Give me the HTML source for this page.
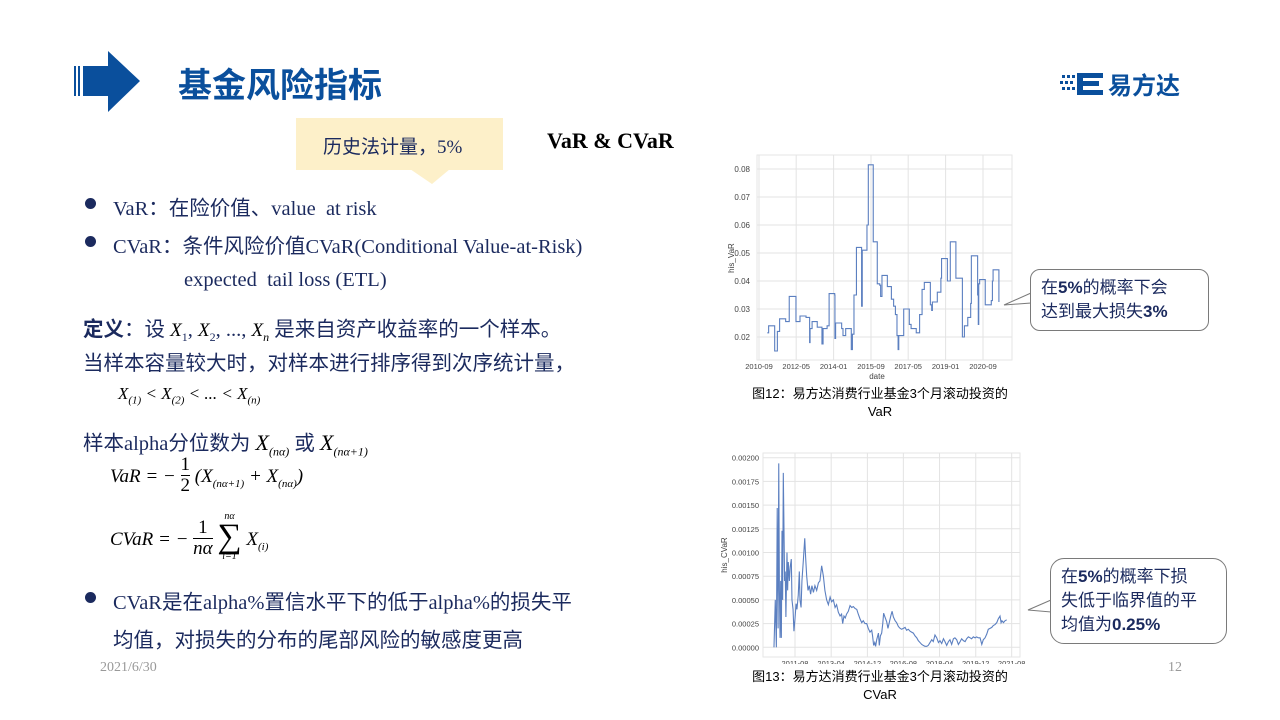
<!DOCTYPE html>
<html><head><meta charset="utf-8">
<style>
body{margin:0;width:1280px;height:720px;background:#fff;position:relative;overflow:hidden;font-family:"Liberation Serif","Noto Sans CJK SC",serif;color:#1b2a5e}
.abs{position:absolute;white-space:nowrap}
.t{font-size:20.5px;color:#1b2a5e}
.m{font-family:"Liberation Serif",serif;font-style:italic;font-size:19px;color:#000}
.dot{position:absolute;width:11px;height:11px;border-radius:50%;background:#1b2a5e}
.call{position:absolute;border:1px solid #7a7a7a;border-radius:10px;background:#fff;font-size:17px;color:#1b2a5e;padding:6px 10px;line-height:24px;font-family:"Liberation Sans","Noto Sans CJK SC",sans-serif}
.cap{font-size:13px;color:#000;text-align:center;font-family:"Liberation Sans","Noto Sans CJK SC",sans-serif;line-height:18px}
</style></head><body>
<svg class="abs" style="left:70px;top:50px" width="72" height="64"><rect x="4" y="16" width="2" height="30" fill="#0a4f9c"/><rect x="8" y="16" width="2" height="30" fill="#0a4f9c"/><polygon points="13,16 38,16 38,1 70,31 38,62 38,46 13,46" fill="#0a4f9c"/></svg>
<div class="abs" style="left:178px;top:58px;font-size:34px;font-weight:bold;color:#0a4f9c;font-family:'Liberation Sans','Noto Sans CJK SC',sans-serif">基金风险指标</div>
<div class="abs" style="left:1060px;top:66px;">
<svg width="48" height="28" style="vertical-align:middle"><g fill="#0a4f9c"><rect x="2" y="5" width="3" height="3"/><rect x="7" y="5" width="3" height="3"/><rect x="0" y="11" width="3" height="3"/><rect x="5" y="11" width="3" height="3"/><rect x="10" y="11" width="3" height="3"/><rect x="2" y="17" width="3" height="3"/><rect x="7" y="17" width="3" height="3"/><rect x="12" y="5" width="3" height="3"/><rect x="12" y="17" width="3" height="3"/><rect x="17" y="3" width="26" height="5"/><rect x="17" y="3" width="6" height="22"/><rect x="17" y="11" width="22" height="5"/><rect x="17" y="20" width="26" height="5"/></g></svg><span style="font-size:24px;font-weight:bold;color:#0a4f9c;font-family:'Liberation Sans','Noto Sans CJK SC',sans-serif;vertical-align:middle">易方达</span></div>

<div class="abs" style="left:296px;top:118px;width:207px;height:52px;background:#fdf0c9"></div>
<svg class="abs" style="left:410px;top:169px" width="40" height="16"><polygon points="0,0 40,0 22,15" fill="#fdf0c9"/></svg>
<div class="abs t" style="left:323px;top:132px;font-size:19px">历史法计量，5%</div>
<div class="abs" style="left:547px;top:128px;font-size:22px;font-weight:bold;color:#000">VaR &amp; CVaR</div>

<div class="dot" style="left:85px;top:198px"></div>
<div class="abs t" style="left:113px;top:191px">VaR：在险价值、value&nbsp; at risk</div>
<div class="dot" style="left:85px;top:236px"></div>
<div class="abs t" style="left:113px;top:229px">CVaR：条件风险价值CVaR(Conditional Value-at-Risk)</div>
<div class="abs t" style="left:184px;top:269px">expected&nbsp; tail loss (ETL)</div>
<div class="abs t" style="left:83px;top:312px"><b>定义</b>：设 <span class="m">X</span><sub style="font-size:12px">1</sub>, <span class="m">X</span><sub style="font-size:12px">2</sub>, ..., <span class="m">X<sub style="font-size:12px">n</sub></span> 是来自资产收益率的一个样本。</div>
<div class="abs t" style="left:83px;top:346px">当样本容量较大时，对样本进行排序得到次序统计量，</div>
<div class="abs m" style="left:118px;top:384px;font-size:17px">X<sub style="font-size:11px">(1)</sub> &lt; X<sub style="font-size:11px">(2)</sub> &lt; ... &lt; X<sub style="font-size:11px">(n)</sub></div>
<div class="abs t" style="left:83px;top:426px">样本alpha分位数为 <span class="m" style="font-size:22px">X<sub style="font-size:12px">(nα)</sub></span> 或 <span class="m" style="font-size:22px">X<sub style="font-size:12px">(nα+1)</sub></span></div>
<div class="abs m" style="left:110px;top:455px;font-size:19px;line-height:20px"><span style="position:relative;top:12px">VaR = −</span> <span style="display:inline-block;text-align:center;vertical-align:top;font-style:normal"><span style="display:block">1</span><span style="display:block;border-top:1px solid #000">2</span></span> <span style="position:relative;top:12px">(X<sub style="font-size:11px">(nα+1)</sub> + X<sub style="font-size:11px">(nα)</sub>)</span></div>
<div class="abs m" style="left:110px;top:512px;font-size:19px;line-height:20px"><span style="position:relative;top:18px">CVaR = −</span> <span style="display:inline-block;text-align:center;vertical-align:top;position:relative;top:6px"><span style="display:block;font-style:normal">1</span><span style="display:block;border-top:1px solid #000">nα</span></span> <span style="display:inline-block;text-align:center;vertical-align:top"><span style="display:block;font-size:10px;line-height:10px">nα</span><span style="display:block;font-size:34px;font-style:normal;line-height:30px">∑</span><span style="display:block;font-size:10px;line-height:10px">i=1</span></span> <span style="position:relative;top:18px">X<sub style="font-size:11px">(i)</sub></span></div>
<div class="dot" style="left:85px;top:592px"></div>
<div class="abs t" style="left:113px;top:585px">CVaR是在alpha%置信水平下的低于alpha%的损失平</div>
<div class="abs t" style="left:113px;top:623px">均值，对损失的分布的尾部风险的敏感度更高</div>
<div class="abs" style="left:100px;top:660px;font-size:14px;color:#999">2021/6/30</div>
<div class="abs" style="left:1168px;top:660px;font-size:14px;color:#999">12</div>

<svg class="abs" id="c1" style="left:0;top:0" width="1280" height="720"></svg>

<div class="abs cap" style="left:730px;top:385px;width:300px">图12：易方达消费行业基金3个月滚动投资的<br>VaR</div>
<div class="abs cap" style="left:730px;top:668px;width:300px">图13：易方达消费行业基金3个月滚动投资的<br>CVaR</div>
<div class="call" style="left:1030px;top:269px;width:157px">在<b>5%</b>的概率下会<br>达到最大损失<b>3%</b></div>
<div class="call" style="left:1050px;top:558px;width:155px;border-radius:14px">在<b>5%</b>的概率下损<br>失低于临界值的平<br>均值为<b>0.25%</b></div>

<script>
const varYears=[2011.04,2011.10,2011.34,2011.37,2011.49,2011.59,2011.85,2011.86,2012.01,2012.02,2012.31,2012.32,2012.50,2012.75,2012.77,2012.93,2012.95,2013.04,2013.27,2013.44,2013.48,2013.53,2013.71,2013.80,2014.05,2014.06,2014.09,2014.32,2014.36,2014.42,2014.54,2014.78,2014.79,2014.84,2014.91,2015.02,2015.22,2015.25,2015.28,2015.46,2015.49,2015.55,2015.76,2015.77,2015.94,2015.95,2016.06,2016.10,2016.16,2016.37,2016.40,2016.53,2016.58,2016.68,2016.76,2016.83,2016.88,2016.91,2017.10,2017.13,2017.37,2017.38,2017.46,2017.66,2017.69,2017.81,2017.84,2017.92,2017.95,2018.05,2018.30,2018.32,2018.38,2018.41,2018.62,2018.63,2018.78,2018.79,2018.82,2019.06,2019.08,2019.18,2019.21,2019.45,2019.46,2019.72,2019.75,2019.82,2019.84,2019.96,2019.99,2020.07,2020.12,2020.15,2020.40,2020.43,2020.46,2020.48,2020.52,2020.76,2020.77,2020.97,2021.04,2021.09,2021.12,2021.35,2021.38];
const varValues=[0.0215,0.024,0.024,0.015,0.022,0.0265,0.0265,0.0255,0.0255,0.0345,0.0345,0.0255,0.0275,0.0275,0.027,0.018,0.023,0.0255,0.0235,0.0235,0.0175,0.023,0.024,0.0355,0.035,0.0195,0.025,0.025,0.023,0.0205,0.023,0.023,0.0155,0.021,0.035,0.052,0.052,0.031,0.051,0.051,0.06,0.0815,0.0815,0.054,0.054,0.039,0.0385,0.0345,0.042,0.042,0.038,0.038,0.0335,0.031,0.028,0.0205,0.0155,0.0205,0.0205,0.03,0.03,0.0245,0.023,0.023,0.0215,0.0215,0.028,0.028,0.037,0.0395,0.0395,0.0315,0.0295,0.0325,0.0325,0.036,0.036,0.041,0.048,0.048,0.04,0.04,0.054,0.054,0.041,0.041,0.02,0.02,0.024,0.024,0.027,0.027,0.032,0.049,0.049,0.035,0.0245,0.039,0.0405,0.0405,0.0315,0.0315,0.033,0.04,0.044,0.044,0.0325];
const varYTicks=[0.02,0.03,0.04,0.05,0.06,0.07,0.08];
const varXTickYears=[2010.67,2012.33,2014.0,2015.67,2017.33,2019.0,2020.67];
const varXTickLabels=['2010-09','2012-05','2014-01','2015-09','2017-05','2019-01','2020-09'];

const cvarYears=[2010.61,2010.67,2010.72,2010.76,2010.80,2010.83,2010.86,2010.89,2010.92,2010.95,2010.98,2011.01,2011.04,2011.07,2011.10,2011.13,2011.16,2011.21,2011.24,2011.27,2011.32,2011.36,2011.41,2011.44,2011.49,2011.53,2011.58,2011.63,2011.67,2011.73,2011.78,2011.81,2011.86,2011.90,2011.96,2012.03,2012.07,2012.12,2012.18,2012.24,2012.30,2012.36,2012.43,2012.50,2012.58,2012.66,2012.73,2012.81,2012.89,2012.96,2013.04,2013.12,2013.20,2013.27,2013.35,2013.43,2013.50,2013.58,2013.66,2013.73,2013.78,2013.84,2013.90,2013.96,2014.04,2014.12,2014.20,2014.27,2014.35,2014.43,2014.50,2014.58,2014.66,2014.73,2014.81,2014.89,2014.96,2015.04,2015.12,2015.16,2015.21,2015.26,2015.30,2015.35,2015.43,2015.47,2015.52,2015.58,2015.63,2015.67,2015.73,2015.81,2015.87,2015.93,2016.00,2016.06,2016.12,2016.20,2016.27,2016.35,2016.43,2016.50,2016.58,2016.66,2016.73,2016.81,2016.89,2016.96,2017.04,2017.12,2017.20,2017.27,2017.35,2017.43,2017.50,2017.58,2017.66,2017.73,2017.81,2017.89,2017.96,2018.04,2018.12,2018.20,2018.27,2018.35,2018.43,2018.50,2018.58,2018.66,2018.73,2018.81,2018.89,2018.96,2019.04,2019.12,2019.20,2019.27,2019.35,2019.43,2019.50,2019.58,2019.66,2019.73,2019.81,2019.89,2019.96,2020.04,2020.12,2020.20,2020.27,2020.35,2020.43,2020.50,2020.58,2020.66,2020.73,2020.81,2020.89,2020.96,2021.04,2021.09,2021.13,2021.20,2021.27,2021.35];
const cvarValues=[0,5,0,14.7,2,19.4,6,1,7,1,12.3,5,18.4,12.8,7,8,3.2,10,6,9,7,8.5,9.3,5,4,1.7,3,4.6,4,5.5,8,5,4.2,7,9,11.5,9.5,7.5,6,6.5,5.6,6.5,5.8,6.5,6,6.8,7,8.6,7.5,6,5,4.5,5.3,4.8,5,4.2,4.5,3.7,3.3,3.5,2.5,3.3,3.1,3.5,3.8,4.4,4.2,4.3,4.1,4,3.5,3,2.6,2.8,2.5,2.5,2,1.6,1.8,1.2,0.2,0.5,0.1,0.8,1.5,0.2,1.2,1.5,2.5,3.6,3.2,2.7,2,2.6,3.3,3.8,3.2,2.8,2.6,2.2,2,1.9,2,2.1,1.8,1.9,1.7,1.6,1.5,1.2,1,0.7,0.5,0.3,0.2,0.1,0.1,0.2,0.5,0.8,0.6,1.3,1,0.5,0.7,0.4,0.9,0.6,0.2,0.6,0.8,0.3,0.9,1,0.8,0.3,0.6,0.9,0.7,0.6,0.9,1.1,1,0.9,1.1,1,1.1,1,1,0.3,0.8,1,1.4,1.9,2,2.1,2.3,2.4,2.6,3,3.3,2.6,2.8,2.6,2.8,2.9];
const cvarYTicks=[0,2.5,5,7.5,10,12.5,15,17.5,20];
const cvarYTickLabels=['0.00000','0.00025','0.00050','0.00075','0.00100','0.00125','0.00150','0.00175','0.00200'];
const cvarXTickYears=[2011.58,2013.25,2014.92,2016.58,2018.25,2019.92,2021.58];
const cvarXTickLabels=['2011-08','2013-04','2014-12','2016-08','2018-04','2019-12','2021-08'];

const svg=document.getElementById('c1');
const NS='http://www.w3.org/2000/svg';
function mk(tag,attrs,txt){const e=document.createElementNS(NS,tag);for(const k in attrs)e.setAttribute(k,attrs[k]);if(txt!==undefined)e.textContent=txt;svg.appendChild(e);return e;}

// chart 1
const x1=y=>759+(y-2010.67)/10*(983-759);
const y1=v=>337-(v-0.02)/0.06*(337-169);
let fr=mk('rect',{x:757,y:155,width:255,height:205,fill:'#fff',stroke:'#e6e6e6'});


varYTicks.forEach(v=>{mk('line',{x1:757,x2:1012,y1:y1(v),y2:y1(v),stroke:'#e3e3e3'});
 const t=mk('text',{x:750,y:y1(v)+3,'font-size':8,'text-anchor':'end',fill:'#444','font-family':'Liberation Sans'},v.toFixed(2));
 });
varXTickYears.forEach((yr,i)=>{mk('line',{x1:x1(yr),x2:x1(yr),y1:155,y2:360,stroke:'#e3e3e3'});
 const t=mk('text',{x:x1(yr),y:369,'font-size':7.5,'text-anchor':'middle',fill:'#444','font-family':'Liberation Sans'},varXTickLabels[i]);
 });
let at=mk('text',{x:877,y:379,'font-size':8,'text-anchor':'middle',fill:'#444','font-family':'Liberation Sans'},'date');

let ay=mk('text',{x:734,y:258,'font-size':8,'text-anchor':'middle',fill:'#444','font-family':'Liberation Sans',transform:'rotate(-90 734 258)'},'his_VaR');

let d='M'+x1(varYears[0])+','+y1(varValues[0]);
for(let i=1;i<varYears.length;i++){d+=' H'+x1(varYears[i])+' V'+y1(varValues[i]);}
let p1=mk('path',{d:d,fill:'none',stroke:'#5b7fc0','stroke-width':1.1});


// chart 2
const x2=y=>795+(y-2011.58)/10*(1011.7-795);
const y2=v=>647.3-v/20*(647.3-457.7);
let fr2=mk('rect',{x:763,y:453,width:257,height:204,fill:'#fff',stroke:'#e6e6e6'});


cvarYTicks.forEach((v,i)=>{mk('line',{x1:763,x2:1020,y1:y2(v),y2:y2(v),stroke:'#e3e3e3'});
 const t=mk('text',{x:759,y:y2(v)+3,'font-size':7.5,'text-anchor':'end',fill:'#444','font-family':'Liberation Sans'},cvarYTickLabels[i]);
 });
cvarXTickYears.forEach((yr,i)=>{mk('line',{x1:x2(yr),x2:x2(yr),y1:453,y2:657,stroke:'#e3e3e3'});
 const t=mk('text',{x:x2(yr),y:666,'font-size':7.5,'text-anchor':'middle',fill:'#444','font-family':'Liberation Sans'},cvarXTickLabels[i]);
 });
let ay2=mk('text',{x:727,y:555,'font-size':8,'text-anchor':'middle',fill:'#444','font-family':'Liberation Sans',transform:'rotate(-90 727 555)'},'his_CVaR');

let d2='M'+cvarYears.map((yr,i)=>x2(yr)+','+y2(cvarValues[i])).join(' L');
let p2=mk('path',{d:d2,fill:'none',stroke:'#5b7fc0','stroke-width':1.1});

mk('rect',{x:760,y:664,width:270,height:6,fill:'#fff'});
mk('polygon',{points:'1031,293 1004,305 1031,303',fill:'#fff',stroke:'#7a7a7a'});
mk('polygon',{points:'1051,600 1028,610 1051,612',fill:'#fff',stroke:'#7a7a7a'});
</script>
</body></html>
